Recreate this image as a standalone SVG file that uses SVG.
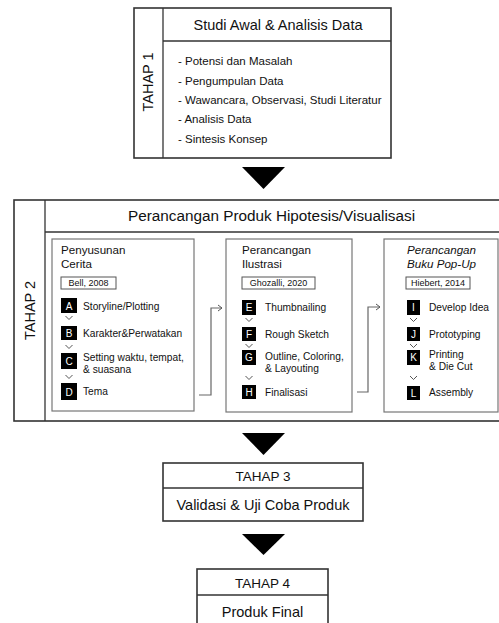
<svg xmlns="http://www.w3.org/2000/svg" width="499" height="623" viewBox="0 0 499 623">
<style>
text{font-family:"Liberation Sans",Arial,sans-serif;fill:#111}
.outer{fill:#fff;stroke:#333;stroke-width:1.6}
.ln{stroke:#333;stroke-width:1.3;fill:none}
.inner{fill:#fff;stroke:#777;stroke-width:1.2}
.ref{fill:#fff;stroke:#555;stroke-width:1}
.t15{font-size:15.3px}
.t14{font-size:14.5px}
.t13{font-size:13.5px}
.t12{font-size:11.6px}
.t11{font-size:11.5px}
.it{font-size:10.2px}
.t9{font-size:9px}
.badge{fill:#000}
.bl{font-size:10px;fill:#fff;text-anchor:middle}
.chev{stroke:#555;stroke-width:1;fill:none}
.tri{fill:#000}
.conn{stroke:#666;stroke-width:1.2;fill:none}
.mid{text-anchor:middle}
</style>
<defs>
<marker id="arr" markerWidth="8" markerHeight="8" refX="6" refY="4" orient="auto" markerUnits="userSpaceOnUse">
<path d="M2,1 L6,4 L2,7" fill="none" stroke="#555" stroke-width="1"/>
</marker>
<path id="chv" d="M-3.5,-2 L0,1.5 L3.5,-2" class="chev"/>
</defs>

<g id="tahap1">
<rect class="outer" x="134" y="8" width="257" height="150"/>
<line class="ln" x1="163" y1="8" x2="163" y2="158"/>
<line class="ln" x1="163" y1="41" x2="391" y2="41"/>
<text class="t14" transform="translate(153,82) rotate(-90)" text-anchor="middle">TAHAP 1</text>
<text class="t14 mid" x="278" y="30">Studi Awal &amp; Analisis Data</text>
<text class="t11" x="178" y="65">- Potensi dan Masalah</text>
<text class="t11" x="178" y="84.5">- Pengumpulan Data</text>
<text class="t11" x="178" y="104">- Wawancara, Observasi, Studi Literatur</text>
<text class="t11" x="178" y="123">- Analisis Data</text>
<text class="t11" x="178" y="142.5">- Sintesis Konsep</text>
</g>

<g id="tri1"><path class="tri" d="M242,167 L285,167 L263.5,189 Z"/></g>

<g id="tahap2">
<rect class="outer" x="14" y="200" width="500" height="221"/>
<line class="ln" x1="45" y1="200" x2="45" y2="421"/>
<line class="ln" x1="45" y1="232" x2="499" y2="232"/>
<text class="t14" transform="translate(35,310.5) rotate(-90)" text-anchor="middle">TAHAP 2</text>
<text class="t15 mid" x="271.5" y="221">Perancangan Produk Hipotesis/Visualisasi</text>
</g>

<g id="box-cerita">
<rect class="inner" x="52" y="239" width="142" height="172"/>
<text class="t12" x="61" y="254">Penyusunan</text>
<text class="t12" x="61" y="268">Cerita</text>
<rect class="ref" x="61" y="277" width="55" height="12"/>
<text class="t9 mid" x="88.5" y="286">Bell, 2008</text>
<rect class="badge" x="61" y="298" width="16" height="15"/><text class="bl" x="69" y="309.5">A</text>
<text class="it" x="83" y="309.5">Storyline/Plotting</text>
<use href="#chv" x="69" y="318"/>
<rect class="badge" x="61" y="326" width="16" height="14"/><text class="bl" x="69" y="337">B</text>
<text class="it" x="83" y="336.5">Karakter&amp;Perwatakan</text>
<use href="#chv" x="69" y="347"/>
<rect class="badge" x="61" y="353" width="16" height="16"/><text class="bl" x="69" y="365">C</text>
<text class="it" x="83" y="361">Setting waktu, tempat,</text>
<text class="it" x="83" y="372.5">&amp; suasana</text>
<use href="#chv" x="69" y="377"/>
<rect class="badge" x="61" y="383" width="16" height="17"/><text class="bl" x="69" y="395.5">D</text>
<text class="it" x="83" y="394.5">Tema</text>
</g>

<g id="box-ilustrasi">
<rect class="inner" x="226" y="239" width="126" height="173"/>
<text class="t12" x="242" y="254">Perancangan</text>
<text class="t12" x="242" y="268">Ilustrasi</text>
<rect class="ref" x="242" y="277" width="73" height="12"/>
<text class="t9 mid" x="278.5" y="286">Ghozalli, 2020</text>
<rect class="badge" x="242" y="300" width="14" height="15"/><text class="bl" x="249" y="311">E</text>
<text class="it" x="265" y="310.5">Thumbnailing</text>
<use href="#chv" x="249" y="320"/>
<rect class="badge" x="242" y="327" width="14" height="14"/><text class="bl" x="249" y="337.5">F</text>
<text class="it" x="265" y="337.5">Rough Sketch</text>
<use href="#chv" x="249" y="346"/>
<rect class="badge" x="242" y="350" width="14" height="15"/><text class="bl" x="249" y="361">G</text>
<text class="it" x="265" y="360">Outline, Coloring,</text>
<text class="it" x="265" y="372">&amp; Layouting</text>
<use href="#chv" x="249" y="378"/>
<rect class="badge" x="242" y="385" width="14" height="14"/><text class="bl" x="249" y="395.5">H</text>
<text class="it" x="265" y="395.5">Finalisasi</text>
</g>

<g id="box-popup">
<rect class="inner" x="384" y="239" width="114" height="173"/>
<text class="t12" x="407" y="254" font-style="italic">Perancangan</text>
<text class="t12" x="407" y="268" font-style="italic">Buku Pop-Up</text>
<rect class="ref" x="406" y="277" width="64" height="12"/>
<text class="t9 mid" x="438" y="286">Hiebert, 2014</text>
<rect class="badge" x="407" y="300" width="13" height="15"/><text class="bl" x="413.5" y="311">I</text>
<text class="it" x="429" y="310.5">Develop Idea</text>
<use href="#chv" x="413.5" y="320"/>
<rect class="badge" x="407" y="327" width="13" height="14"/><text class="bl" x="413.5" y="337.5">J</text>
<text class="it" x="429" y="337.5">Prototyping</text>
<use href="#chv" x="413.5" y="346"/>
<rect class="badge" x="407" y="350" width="13" height="15"/><text class="bl" x="413.5" y="361">K</text>
<text class="it" x="429" y="357.5">Printing</text>
<text class="it" x="429" y="369.5">&amp; Die Cut</text>
<use href="#chv" x="413.5" y="378"/>
<rect class="badge" x="407" y="386" width="13" height="14"/><text class="bl" x="413.5" y="396.5">L</text>
<text class="it" x="429" y="395.5">Assembly</text>
</g>

<g id="connectors">
<path class="conn" d="M199,395 L211,395 L211,308 L222,308" marker-end="url(#arr)"/>
<path class="conn" d="M357,392 L368,392 L368,307 L380,307" marker-end="url(#arr)"/>
</g>

<g id="tri2"><path class="tri" d="M242,433 L285,433 L263.5,455 Z"/></g>

<g id="tahap3">
<rect class="outer" x="163" y="463" width="200" height="58"/>
<line class="ln" x1="163" y1="488" x2="363" y2="488"/>
<text class="t13 mid" x="263" y="481">TAHAP 3</text>
<text class="t14 mid" x="263" y="510">Validasi &amp; Uji Coba Produk</text>
</g>

<g id="tri3"><path class="tri" d="M242,534 L285,534 L263.5,555 Z"/></g>

<g id="tahap4">
<rect class="outer" x="197" y="569" width="131" height="60"/>
<line class="ln" x1="197" y1="595" x2="328" y2="595"/>
<text class="t13 mid" x="262.5" y="588">TAHAP 4</text>
<text class="t14 mid" x="262.5" y="617">Produk Final</text>
</g>
</svg>
